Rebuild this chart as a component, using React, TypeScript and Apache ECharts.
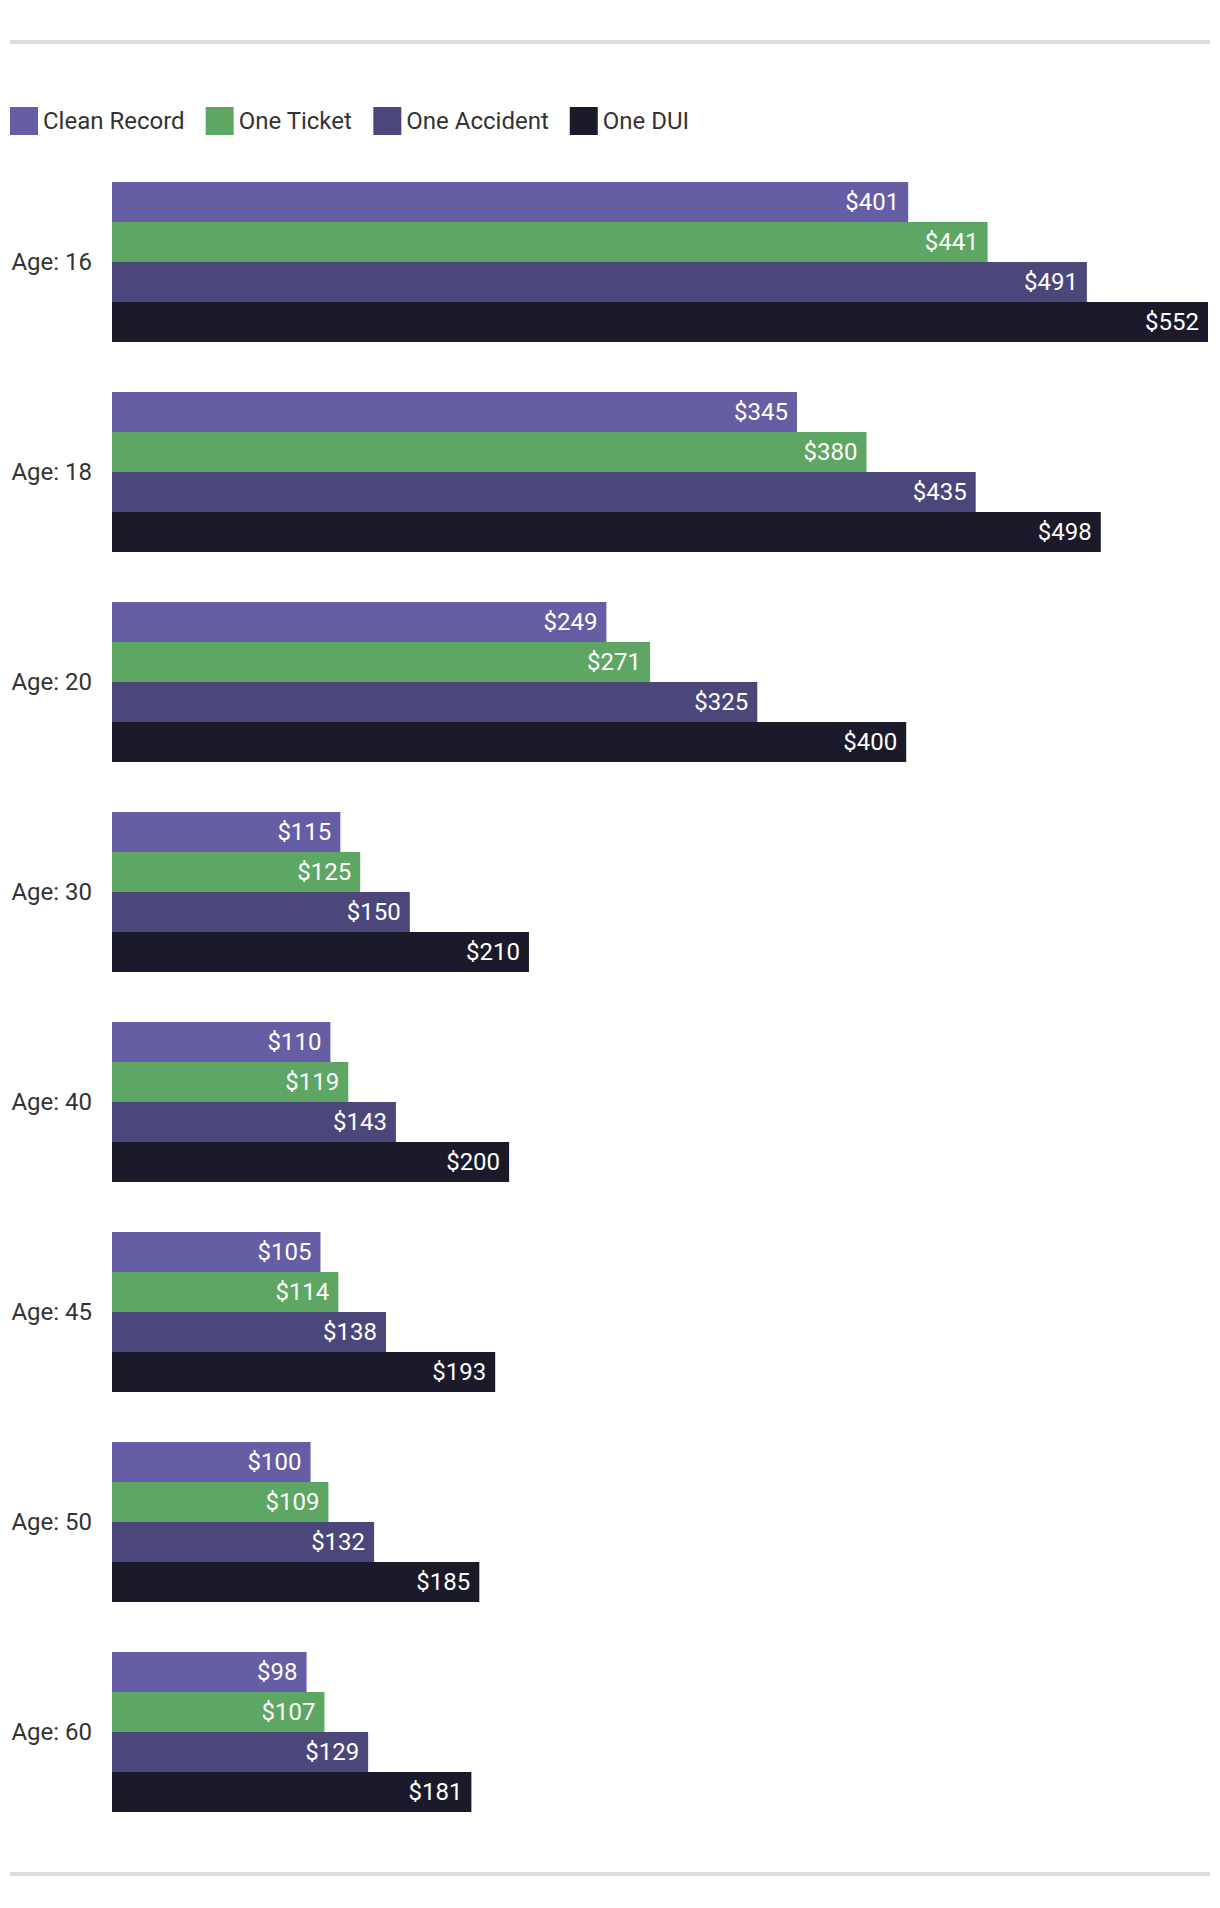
import React, { useEffect, useRef } from "react";
import * as echarts from "echarts";

const categories = ["Age: 16", "Age: 18", "Age: 20", "Age: 30", "Age: 40", "Age: 45", "Age: 50", "Age: 60"];
const seriesNames = ["Clean Record", "One Ticket", "One Accident", "One DUI"];
const cleanRecord = [401, 345, 249, 115, 110, 105, 100, 98];
const oneTicket = [441, 380, 271, 125, 119, 114, 109, 107];
const oneAccident = [491, 435, 325, 150, 143, 138, 132, 129];
const oneDUI = [552, 498, 400, 210, 200, 193, 185, 181];
const colors = ["#655EA5", "#5EA664", "#4B477A", "#1B1A2A"];

const FONT = "Roboto";

export default function App() {
  const ref = useRef<HTMLDivElement>(null);
  useEffect(() => {
    if (!ref.current) return;
    const chart = echarts.init(ref.current, undefined, { renderer: "svg" });
    const all = [cleanRecord, oneTicket, oneAccident, oneDUI];
    chart.setOption({
      animation: false,
      color: colors,
      textStyle: { fontFamily: FONT },
      legend: {
        left: 10,
        top: 107,
        padding: 0,
        icon: "rect",
        itemWidth: 28,
        itemHeight: 28,
        itemGap: 21,
        textStyle: { fontSize: 24, color: "#333333", fontFamily: FONT },
        data: seriesNames,
      },
      grid: { left: 112, top: 157, width: 1096, height: 1680, containLabel: false },
      xAxis: {
        type: "value",
        min: 0,
        max: "dataMax",
        show: false,
        splitLine: { show: false },
      },
      yAxis: {
        type: "category",
        data: categories,
        inverse: true,
        axisLine: { show: false },
        axisTick: { show: false },
        axisLabel: { fontSize: 24, color: "#333333", margin: 20, fontFamily: FONT },
      },
      series: seriesNames.map((name, i) => ({
        name,
        type: "bar",
        data: all[i],
        barWidth: 40,
        barGap: "0%",
        itemStyle: { color: colors[i] },
        label: {
          show: true,
          position: "insideRight",
          distance: 9,
          color: "#ffffff",
          fontSize: 24,
          fontFamily: FONT,
          formatter: (p: any) => "$" + p.value,
        },
      })),
      graphic: [
        { type: "rect", left: 10, top: 40, shape: { width: 1200, height: 4 }, style: { fill: "#dddddd" } },
        { type: "rect", left: 10, top: 1872, shape: { width: 1200, height: 4 }, style: { fill: "#dddddd" } },
      ],
    });
    return () => chart.dispose();
  }, []);
  return (
    <div
      ref={ref}
      style={{ position: "absolute", left: 0, top: 0, width: 1220, height: 1908, background: "#ffffff" }}
    />
  );
}
